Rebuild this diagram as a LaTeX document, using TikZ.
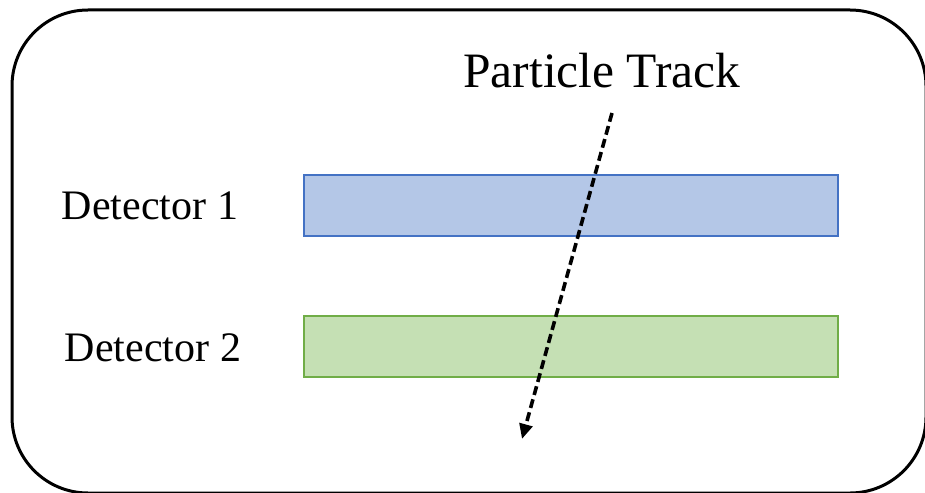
\documentclass[tikz,border=0pt]{standalone}
\usepackage{fontspec}
\setmainfont{Liberation Serif}
\usetikzlibrary{arrows.meta}
\definecolor{bluefill}{HTML}{B4C7E7}
\definecolor{blueline}{HTML}{4472C4}
\definecolor{greenfill}{HTML}{C5E0B4}
\definecolor{greenline}{HTML}{70AD47}
\tikzset{
  frame/.style={draw=black, line width=3pt, rounded corners=76pt},
  detbox/.style={minimum width=534pt, minimum height=61pt, inner sep=0pt, line width=2pt},
  label/.style={font=\fontsize{42}{48}\selectfont, inner sep=0pt},
  track/.style={line width=3.6pt, dash pattern=on 9pt off 4.5pt, -{Triangle[length=15pt,width=13pt]}}
}
\begin{document}
\begin{tikzpicture}[x=1pt,y=-1pt]
\useasboundingbox (0,0) rectangle (925,492);
\begin{scope}
\clip (0,0) rectangle (925,492);
\draw[frame] (12,10) rectangle (926,493);
\end{scope}
\node[detbox, draw=blueline, fill=bluefill] (d1) at (571,205.5) {};
\node[detbox, draw=greenline, fill=greenfill] (d2) at (571,346.5) {};
\node[label] (l1) at (150,206) {Detector 1};
\node[label] (l2) at (153,348) {Detector 2};
\node[label, font=\fontsize{49.5}{56}\selectfont] (pt) at (602,71) {Particle Track};
\coordinate (ts) at (612,113);
\coordinate (te) at (522,439);
\draw[track] (ts) -- (te);
\end{tikzpicture}
\end{document}
